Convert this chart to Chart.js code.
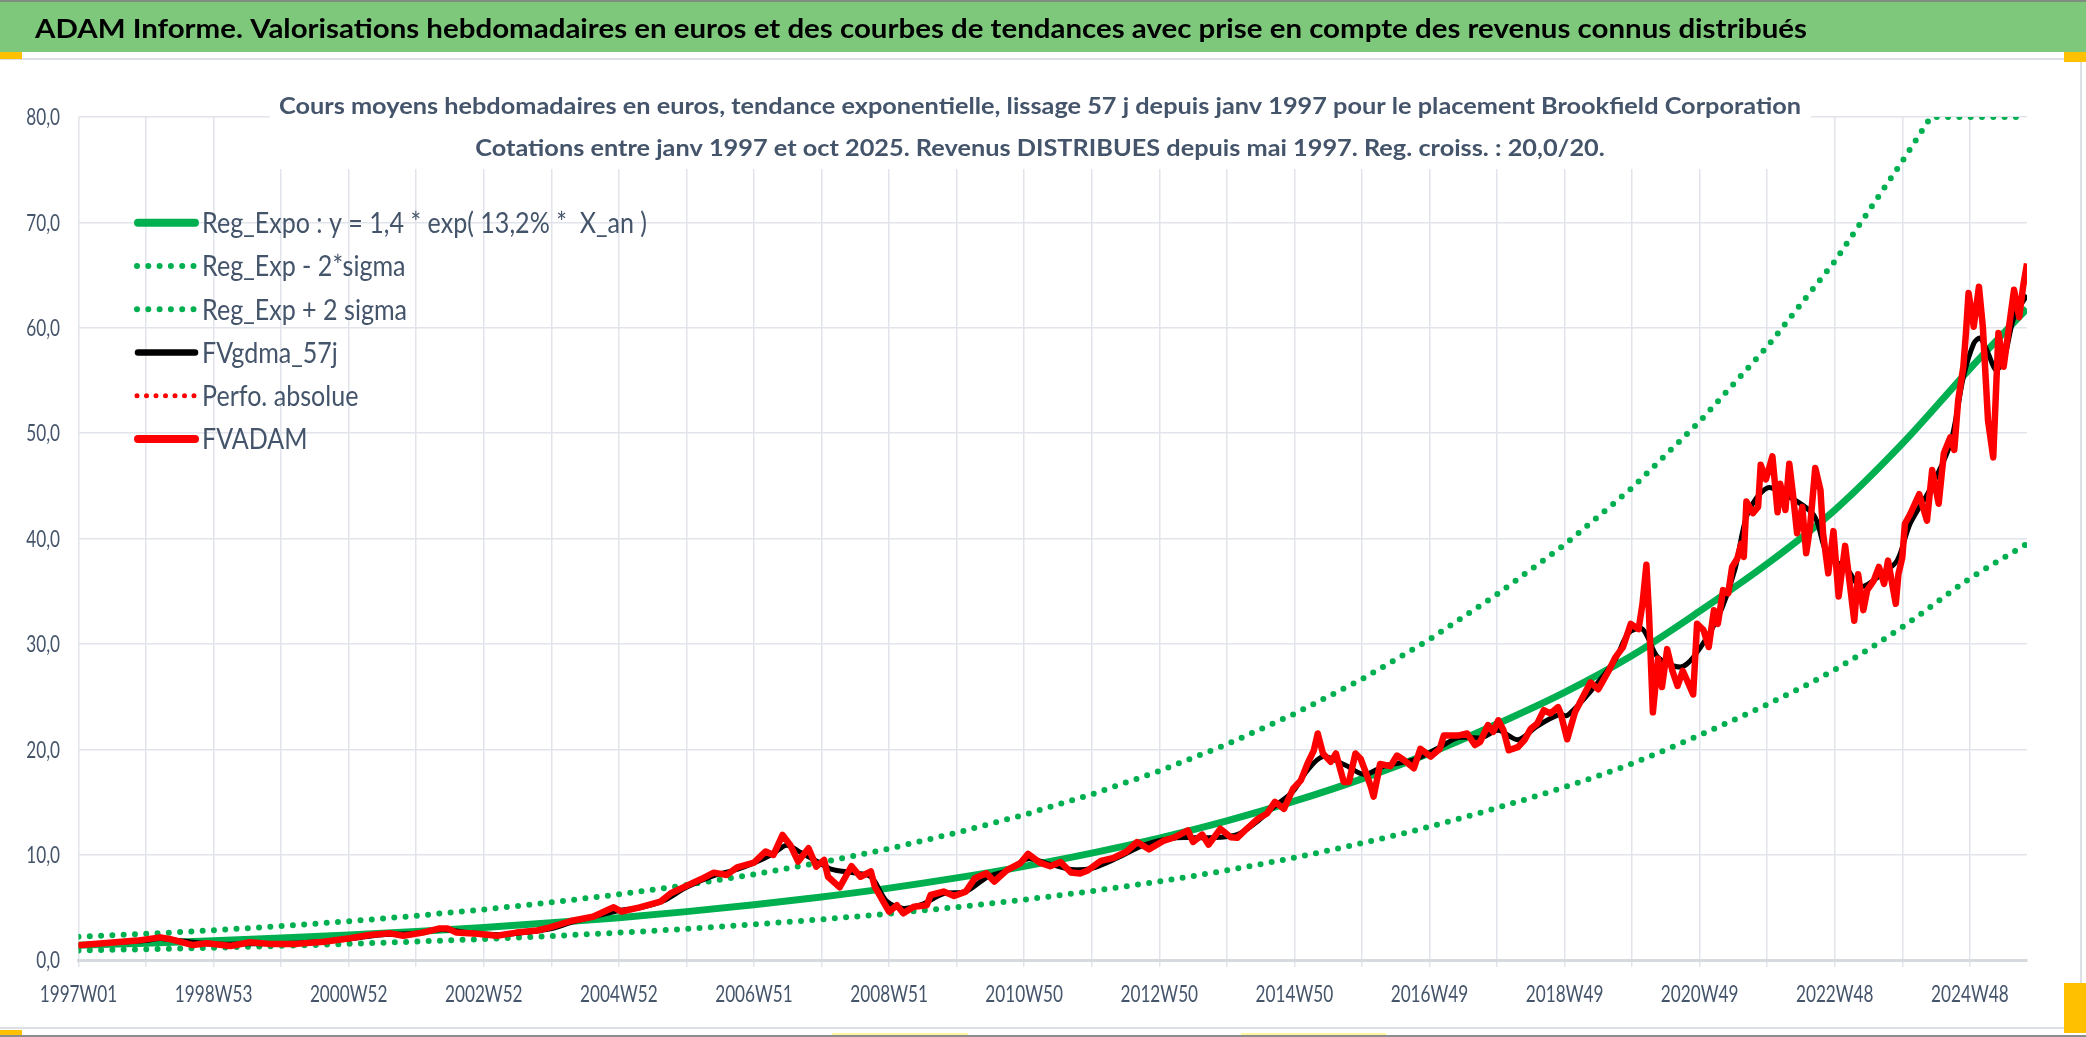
<!DOCTYPE html>
<html><head><meta charset="utf-8">
<script src="https://cdn.jsdelivr.net/npm/chart.js@4.4.1/dist/chart.umd.min.js"></script>
<style>html,body{margin:0;padding:0;background:#fff;overflow:hidden}canvas{display:block}</style>
</head><body>
<canvas id="c" width="2086" height="1037"></canvas>
<script>
const headerTitle = 'ADAM Informe. Valorisations hebdomadaires en euros et des courbes de tendances avec prise en compte des revenus connus distribués';
const subtitleLines = [
  'Cours moyens hebdomadaires en euros, tendance exponentielle, lissage 57 j depuis janv 1997 pour le placement Brookfield Corporation',
  'Cotations entre janv 1997 et oct 2025. Revenus DISTRIBUES depuis mai 1997. Reg. croiss. : 20,0/20.'
];
const seriesNames = ['Reg_Expo : y = 1,4 * exp( 13,2% *  X_an )', 'Reg_Exp - 2*sigma', 'Reg_Exp + 2 sigma', 'FVgdma_57j', 'Perfo. absolue', 'FVADAM'];

const xTickWeeks = [0,104,208,312,416,520,624,728,832,936,1040,1144,1248,1352,1456];
const xTickLabels = ['1997W01','1998W53','2000W52','2002W52','2004W52','2006W51','2008W51','2010W50','2012W50','2014W50','2016W49','2018W49','2020W49','2022W48','2024W48'];

const trendWeeks = [0,52,104,156,208,260,312,364,416,468,520,572,624,676,728,780,832,884,936,988,1040,1092,1144,1196,1248,1300,1352,1404,1456,1500];
const trendValues = [1.40,1.60,1.82,2.08,2.37,2.71,3.09,3.53,4.02,4.59,5.24,5.98,6.82,7.79,8.89,10.14,11.57,13.20,15.07,17.19,19.62,22.39,25.40,28.90,33.10,37.60,42.70,49.00,56.10,61.80];

const lowerWeeks = trendWeeks;
const lowerValues = [0.90,1.03,1.17,1.34,1.53,1.75,1.99,2.28,2.59,2.96,3.38,3.86,4.40,5.02,5.73,6.54,7.46,8.51,9.72,11.09,12.65,14.44,16.40,18.65,21.35,24.25,27.55,31.60,36.20,39.50];

const upperWeeks = [0,52,104,156,208,260,312,364,416,468,520,572,624,676,728,780,832,884,936,988,1040,1092,1144,1196,1248,1300,1352,1404,1426,1456,1500];
const upperValues = [2.20,2.48,2.82,3.22,3.67,4.20,4.79,5.47,6.23,7.11,8.12,9.27,10.57,12.07,13.78,15.72,17.93,20.46,23.36,26.64,30.41,34.70,39.40,44.80,51.10,58.20,66.30,75.80,80,80,80];

const smoothWeeks = [0,26,52,63,80,104,130,156,182,208,234,260,280,300,325,350,365,380,396,416,432,450,468,489,507,520,535,545,556,568,580,595,610,622,635,650,666,683,700,715,731,745,764,780,800,820,845,870,892,908,921,935,946,958,975,990,1005,1028,1048,1062,1080,1093,1108,1123,1140,1146,1164,1183,1193,1204,1216,1233,1243,1262,1275,1285,1300,1315,1336,1346,1362,1372,1388,1400,1410,1425,1441,1451,1459,1464,1470,1476,1482,1490,1500];
const smoothValues = [1.4,1.65,1.85,2.05,1.8,1.5,1.55,1.55,1.7,2.0,2.4,2.55,2.9,2.6,2.4,2.7,3.0,3.6,4.1,4.7,4.95,5.6,6.9,8.0,8.6,9.2,10.1,10.9,10.2,9.4,8.6,8.3,7.9,5.6,4.9,5.3,6.3,6.5,7.9,8.5,9.6,9.2,8.6,8.7,9.7,10.9,11.6,11.6,11.9,13.2,14.6,16.0,18.0,19.3,18.5,17.6,18.4,19.0,20.2,21.1,21.1,21.8,20.9,22.2,23.3,23.2,25.5,28.5,31.0,31.4,28.7,27.8,28.7,32.5,37.0,42.4,44.8,44.1,42.2,38.6,37.0,35.4,36.6,37.9,41.4,44.6,49.0,55.3,58.5,59.0,57.6,56.0,56.9,61.0,63.1];

const fvadamWeeks = [0,19,45,63,70,88,99,117,132,147,168,189,209,224,240,250,265,278,284,291,307,322,337,353,363,379,396,412,418,432,448,456,468,479,489,499,507,520,529,535,542,548,554,562,568,574,577,586,595,602,610,613,620,624,630,635,643,653,656,666,674,683,690,699,705,715,725,731,740,748,756,764,771,777,787,797,807,815,824,835,844,854,858,865,870,879,887,892,898,908,915,921,928,935,941,946,951,954,958,964,968,974,978,983,987,991,995,997,1002,1010,1015,1020,1028,1033,1041,1048,1051,1062,1069,1075,1079,1085,1089,1093,1097,1101,1108,1113,1118,1123,1128,1133,1139,1141,1146,1152,1159,1164,1170,1178,1183,1189,1195,1201,1204,1207,1209,1212,1216,1219,1223,1227,1231,1235,1239,1243,1246,1251,1255,1259,1262,1266,1270,1273,1277,1280,1282,1284,1289,1293,1295,1299,1304,1308,1310,1314,1317,1320,1323,1327,1330,1333,1337,1341,1343,1347,1351,1355,1360,1364,1367,1370,1374,1377,1382,1386,1390,1393,1399,1401,1404,1406,1410,1417,1423,1427,1432,1436,1441,1444,1447,1451,1453,1455,1459,1463,1466,1470,1474,1478,1482,1490,1494,1497,1500];
const fvadamValues = [1.4,1.58,1.84,2.15,2.0,1.42,1.58,1.33,1.68,1.53,1.53,1.74,2.06,2.37,2.53,2.3,2.6,3.0,3.0,2.6,2.5,2.3,2.6,2.8,3.1,3.7,4.1,5.0,4.6,5.0,5.54,6.33,7.03,7.66,8.29,8.07,8.8,9.24,10.3,9.97,11.87,10.9,9.34,10.6,8.86,9.5,7.9,6.9,8.9,7.9,8.4,6.96,5.44,4.59,5.2,4.43,5.06,5.2,6.17,6.49,6.08,6.49,7.76,8.23,7.45,8.55,9.18,10.07,9.24,8.9,9.3,8.3,8.2,8.5,9.4,9.7,10.3,11.2,10.5,11.3,11.65,12.3,11.2,11.9,10.95,12.45,11.65,11.6,12.3,13.4,13.9,15.0,14.35,16.25,17.05,18.6,19.9,21.5,19.6,18.8,19.6,16.9,16.9,19.6,19.1,17.8,16.4,15.5,18.6,18.4,19.4,19.0,18.2,20.05,19.3,20.05,21.3,21.3,21.5,20.4,20.7,22.3,21.65,22.75,21.8,19.9,20.2,20.85,21.95,22.45,23.7,23.4,24.0,23.4,20.95,23.5,25.2,26.35,25.7,27.45,28.7,29.7,31.9,31.4,33.8,37.5,32.9,23.5,28.6,25.9,29.5,27.45,26.0,27.45,26.35,25.2,31.9,31.3,29.7,33.2,31.9,35.1,34.8,37.3,38.1,39.5,38.25,43.5,42.4,43.0,47.0,45.6,47.8,42.5,45.2,42.7,47.1,44.0,40.5,43.0,38.6,41.1,46.7,44.6,40.5,36.7,40.7,34.5,39.3,35.3,32.2,36.6,33.2,35.1,36.0,37.3,35.7,37.9,33.8,36.6,38.2,41.4,42.3,44.2,41.7,46.5,43.3,48.1,49.6,48.4,53.1,56.3,59.5,63.3,60.1,63.9,60.1,51.2,47.7,59.5,56.3,63.6,61.0,63.9,66.1];
const perfoWeeks = fvadamWeeks;
const perfoValues = fvadamValues;

const FONT = "Lato,'DejaVu Sans',sans-serif";
const TXT = '#44546a';
const GREEN = '#00b050';

function pts(w, v) { return w.map((x, i) => ({ x: x, y: v[i] })); }

const gridWeeks = [];
for (let w = 0; w <= 1456; w += 52) gridWeeks.push(w);

function fillFit(ctx, text, x, y, scale) {
  ctx.save(); ctx.translate(x, y); ctx.scale(scale, 1); ctx.fillText(text, 0, 0); ctx.restore();
}

const decorPlugin = {
  id: 'decor',
  beforeDraw(chart) {
    const ctx = chart.ctx;
    ctx.save();
    ctx.fillStyle = '#ffffff'; ctx.fillRect(0, 0, 2086, 1037);
    ctx.fillStyle = '#7ec87c'; ctx.fillRect(0, 0, 2086, 52);
    ctx.fillStyle = '#7f8f7f'; ctx.fillRect(0, 0, 2086, 2);
    ctx.fillStyle = '#dcdfe3'; ctx.fillRect(0, 58, 2082, 2); ctx.fillRect(0, 1027, 2082, 2); ctx.fillRect(2080, 58, 2, 971);
    ctx.fillStyle = '#8c8c8c'; ctx.fillRect(0, 1035, 2086, 2);
    ctx.fillStyle = '#000'; ctx.font = 'bold 26px ' + FONT; ctx.textBaseline = 'alphabetic'; ctx.textAlign = 'left';
    const hw = ctx.measureText(headerTitle).width;
    fillFit(ctx, headerTitle, 35, 37.5, 1772 / hw);
    ctx.restore();
  },
  beforeDatasetsDraw(chart) {
    const ctx = chart.ctx;
    ctx.save();
    ctx.fillStyle = '#ffffff'; ctx.fillRect(270, 100, 1541, 69);
    ctx.fillStyle = TXT; ctx.font = 'bold 23.5px ' + FONT; ctx.textAlign = 'left'; ctx.textBaseline = 'alphabetic';
    const w1 = ctx.measureText(subtitleLines[0]).width;
    const s = 1522 / w1;
    fillFit(ctx, subtitleLines[0], 1040 - 761, 113.5, s);
    const w2 = ctx.measureText(subtitleLines[1]).width * s;
    fillFit(ctx, subtitleLines[1], 1040 - w2 / 2, 156, s);
    ctx.restore();
  },
  afterDraw(chart) {
    const ctx = chart.ctx;
    const xs = chart.scales.x, ys = chart.scales.y;
    ctx.save();
    // axis tick labels
    ctx.fillStyle = TXT; ctx.font = '23px ' + FONT; ctx.textAlign = 'left'; ctx.textBaseline = 'alphabetic';
    const k = 77.6 / ctx.measureText(xTickLabels[0]).width;
    xTickWeeks.forEach((w, i) => {
      const t = xTickLabels[i];
      const tw = ctx.measureText(t).width * k;
      fillFit(ctx, t, xs.getPixelForValue(w) - tw / 2, 1001.7, k);
    });
    ys.ticks.forEach(tk => {
      const t = tk.value.toFixed(1).replace('.', ',');
      const tw = ctx.measureText(t).width * k;
      fillFit(ctx, t, 60 - tw, ys.getPixelForValue(tk.value) + 8.3, k);
    });
    // legend
    ctx.font = '28.5px ' + FONT;
    const ls = 445 / ctx.measureText(chart.data.datasets[0].label).width;
    chart.data.datasets.forEach((ds, i) => {
      const y = 222.7 + i * 43.25;
      ctx.save();
      ctx.strokeStyle = ds.borderColor; ctx.lineWidth = ds.legendWidth; ctx.lineCap = 'round';
      ctx.setLineDash(ds.legendDash || []);
      ctx.beginPath(); ctx.moveTo(ds.legendDash ? 137 : 138, y); ctx.lineTo(195, y); ctx.stroke();
      ctx.restore();
      ctx.fillStyle = TXT;
      fillFit(ctx, ds.label, 202, y + 10.5, ls);
    });
    ctx.fillStyle = '#ffc000';
    ctx.fillRect(0, 52, 22, 7); ctx.fillRect(2064, 52, 22, 10);
    ctx.fillRect(0, 1030, 22, 5); ctx.fillRect(2064, 983, 22, 50);
    ctx.fillStyle = '#fff59a'; ctx.fillRect(832, 1033, 136, 2); ctx.fillRect(1241, 1033, 145, 2);
    ctx.restore();
  }
};

Chart.defaults.font.family = FONT;
new Chart(document.getElementById('c'), {
  type: 'line',
  data: {
    datasets: [
      { label: seriesNames[0], data: pts(trendWeeks, trendValues), borderColor: GREEN, borderWidth: 7, cubicInterpolationMode: 'monotone', order: 3, legendWidth: 8 },
      { label: seriesNames[1], data: pts(lowerWeeks, lowerValues), borderColor: GREEN, borderWidth: 6, borderDash: [0, 11.3], borderCapStyle: 'round', cubicInterpolationMode: 'monotone', order: 4, legendWidth: 6, legendDash: [0, 11.3] },
      { label: seriesNames[2], data: pts(upperWeeks, upperValues), borderColor: GREEN, borderWidth: 6, borderDash: [0, 11.3], borderCapStyle: 'round', order: 5, legendWidth: 6, legendDash: [0, 11.3] },
      { label: seriesNames[3], data: pts(smoothWeeks, smoothValues), borderColor: '#000000', borderWidth: 5, tension: 0.3, order: 2, legendWidth: 6.5 },
      { label: seriesNames[4], data: pts(perfoWeeks, perfoValues), borderColor: '#ff0000', borderWidth: 4, borderDash: [0, 9.5], borderCapStyle: 'round', order: 1, legendWidth: 5, legendDash: [0, 9.5] },
      { label: seriesNames[5], data: pts(fvadamWeeks, fvadamValues), borderColor: '#ff0000', borderWidth: 6.5, borderJoinStyle: 'round', order: 0, legendWidth: 8 }
    ]
  },
  options: {
    responsive: false, animation: false, devicePixelRatio: 1,
    elements: { point: { radius: 0, hoverRadius: 0 }, line: { fill: false } },
    layout: { padding: { left: 0, right: 59, top: 117, bottom: 0 } },
    plugins: { legend: { display: false }, title: { display: false }, tooltip: { enabled: false } },
    scales: {
      x: {
        type: 'linear', min: 0, max: 1500,
        afterBuildTicks(s) { s.ticks = gridWeeks.map(v => ({ value: v })); },
        afterFit(s) { s.height = 77; },
        grid: { color: '#e1e4ea', lineWidth: 1.5, tickLength: 7, drawTicks: true },
        border: { display: true, color: '#d6d9de', width: 3 },
        ticks: { display: false, autoSkip: false, maxRotation: 0, minRotation: 0 }
      },
      y: {
        min: 0, max: 80,
        afterFit(s) { s.width = 78.5; },
        grid: { color: '#e1e4ea', lineWidth: 1.5, drawTicks: false },
        border: { display: false },
        ticks: { display: false, stepSize: 10 }
      }
    }
  },
  plugins: [decorPlugin]
});
</script>
</body></html>
